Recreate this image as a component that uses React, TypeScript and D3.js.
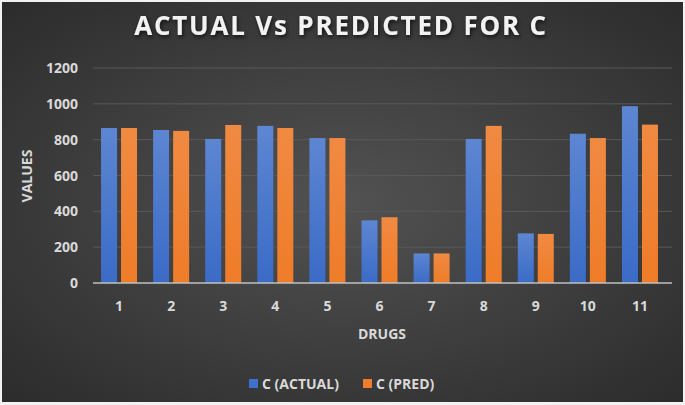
import React from "react";
import * as d3 from "d3";

const categories = ["1", "2", "3", "4", "5", "6", "7", "8", "9", "10", "11"];
const actual = [865, 854, 804, 877, 809, 350, 165, 804, 277, 833, 987];
const pred = [865, 849, 882, 865, 809, 367, 165, 877, 274, 809, 884];
const yTicks = [0, 200, 400, 600, 800, 1000, 1200];
const seriesNames = ["C (ACTUAL)", "C (PRED)"];

const W = 685;
const H = 405;
const font = "'Open Sans', 'Noto Sans', sans-serif";
const fs = 14;

export default function App() {
  const x = d3.scaleBand<string>().domain(categories).range([93, 666]).paddingInner(0).paddingOuter(0);
  const y = d3.scaleLinear().domain([0, 1200]).range([283, 68]);
  const step = x.step();
  const barW = 16;
  const gap = 4;
  const series = [actual, pred];
  const fills = ["url(#gBlue)", "url(#gOrange)"];

  return (
    <svg width={W} height={H} style={{ position: "absolute", left: 0, top: 0, display: "block" }}>
      <defs>
        <radialGradient id="bg" cx="50%" cy="50%" r="70%">
          <stop offset="0%" stopColor="#525252" />
          <stop offset="100%" stopColor="#2c2c2c" />
        </radialGradient>
        <linearGradient id="gBlue" x1="0" y1="0" x2="0" y2="1">
          <stop offset="0%" stopColor="#5d86d2" />
          <stop offset="100%" stopColor="#3a6bc6" />
        </linearGradient>
        <linearGradient id="gOrange" x1="0" y1="0" x2="0" y2="1">
          <stop offset="0%" stopColor="#f08a42" />
          <stop offset="100%" stopColor="#ef7c28" />
        </linearGradient>
        <filter id="shadow" x="-10%" y="-30%" width="120%" height="160%">
          <feDropShadow dx="1" dy="2" stdDeviation="2" floodColor="#000" floodOpacity="0.7" />
        </filter>
      </defs>
      <rect x={0} y={0} width={W} height={H} fill="#f2f2f2" />
      <rect x={2} y={2} width={W - 4} height={H - 5} fill="url(#bg)" />
      <text x={341} y={35} textAnchor="middle" fill="#f2f2f2" fontFamily={font} fontWeight={700}
        fontSize={26} letterSpacing={1.8} filter="url(#shadow)">ACTUAL Vs PREDICTED FOR C</text>

      {yTicks.map((t) => (
        <g key={t}>
          {t > 0 && <line x1={93} x2={672} y1={y(t)} y2={y(t)} stroke="#585858" strokeWidth={1} />}
          <text x={78} y={y(t) + 5} textAnchor="end" fill="#d9d9d9" fontFamily={font} fontWeight={700} fontSize={fs}>{t}</text>
        </g>
      ))}

      {categories.map((c, i) => {
        const cx = (x(c) as number) + step / 2;
        return (
          <g key={c}>
            {series.map((s, j) => {
              const bx = cx + (j === 0 ? -gap / 2 - barW : gap / 2);
              return <rect key={j} x={bx} y={y(s[i])} width={barW} height={y(0) - y(s[i])} fill={fills[j]} />;
            })}
            <text x={cx} y={311} textAnchor="middle" fill="#d9d9d9" fontFamily={font} fontWeight={700} fontSize={fs}>{c}</text>
          </g>
        );
      })}
      <line x1={93} x2={672} y1={y(0)} y2={y(0)} stroke="#c0c0c0" strokeWidth={1.5} />

      <text x={382} y={339} textAnchor="middle" fill="#d9d9d9" fontFamily={font} fontWeight={700} fontSize={fs}>DRUGS</text>
      <text transform={`translate(32,176) rotate(-90)`} textAnchor="middle" fill="#d9d9d9" fontFamily={font} fontWeight={700} fontSize={fs}>VALUES</text>

      <rect x={249} y={379} width={9} height={9} fill="#3f70cc" />
      <text x={262} y={389} fill="#d9d9d9" fontFamily={font} fontWeight={700} fontSize={fs}>{seriesNames[0]}</text>
      <rect x={363} y={379} width={9} height={9} fill="#ef7d2c" />
      <text x={376} y={389} fill="#d9d9d9" fontFamily={font} fontWeight={700} fontSize={fs}>{seriesNames[1]}</text>
    </svg>
  );
}
